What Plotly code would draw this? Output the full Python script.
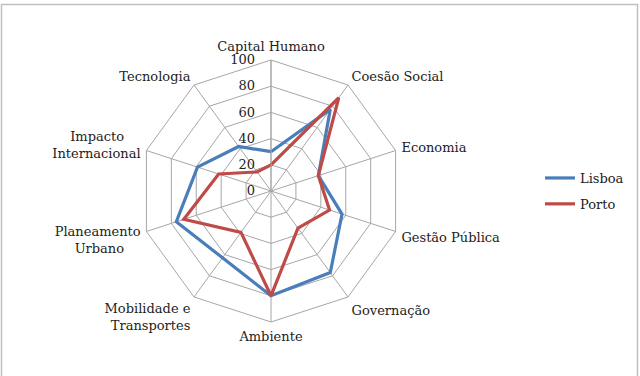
import plotly.graph_objects as go

NB = "\u00a0"
categories = ["Capital Humano", "Coesão Social", "Economia", "Gestão Pública", "Governação",
              "Ambiente", "Mobilidade e<br>Transportes", "Planeamento<br>Urbano" + NB * 4,
              "Impacto" + NB * 4 + "<br>Internacional", "Tecnologia"]
lisboa = [30, 77, 38, 57, 77, 80, 63, 76, 59, 42]
porto = [20, 88, 38, 47, 35, 80, 39, 70, 42, 18]
radial_ticks = [0, 20, 40, 60, 80, 100]

FONT = "DejaVu Serif"
FS = 13
W, H = 640, 376
cx, cy, R = 271, 191, 131

fig = go.Figure()
for name, vals, col in [("Lisboa", lisboa, "#4a7ebb"), ("Porto", porto, "#be4b48")]:
    fig.add_trace(go.Scatterpolar(
        r=vals + vals[:1], theta=categories + categories[:1], name=name,
        legendgroup=name, mode="lines", line=dict(color=col, width=3.2)))

fig.update_layout(
    width=W, height=H, margin=dict(l=0, r=0, t=0, b=0),
    paper_bgcolor="white", plot_bgcolor="white",
    font=dict(family=FONT, size=FS, color="#222"),
    polar=dict(
        domain=dict(x=[(cx - R) / W, (cx + R) / W], y=[(H - cy - R) / H, (H - cy + R) / H]),
        bgcolor="white",
        gridshape="linear",
        angularaxis=dict(rotation=90, direction="clockwise", showline=True,
                         linecolor="#a6a6a6", linewidth=1, gridcolor="#a6a6a6",
                         gridwidth=1, ticks="outside", ticklen=3, tickcolor="rgba(0,0,0,0)",
                         tickfont=dict(family=FONT, size=FS, color="#222")),
        radialaxis=dict(range=[0, 100], tickvals=radial_ticks, angle=90, tickangle=90,
                        side="counterclockwise", showline=True, linecolor="#a6a6a6",
                        gridcolor="#a6a6a6", gridwidth=1, ticks="outside", ticklen=11,
                        tickcolor="rgba(0,0,0,0)",
                        tickfont=dict(family=FONT, size=FS, color="#222")),
    ),
    legend=dict(x=540 / W, y=(H - 191) / H, xanchor="left", yanchor="middle",
                font=dict(family=FONT, size=FS, color="#222"), itemwidth=30,
                bgcolor="rgba(0,0,0,0)", tracegroupgap=6),
    shapes=[dict(type="rect", xref="paper", yref="paper",
                 x0=1.5 / W, x1=(W - 2.5) / W, y0=-0.02, y1=(H - 4.5) / H,
                 line=dict(color="#bfbfbf", width=1.5))],
)

fig.write_html("out.html")
